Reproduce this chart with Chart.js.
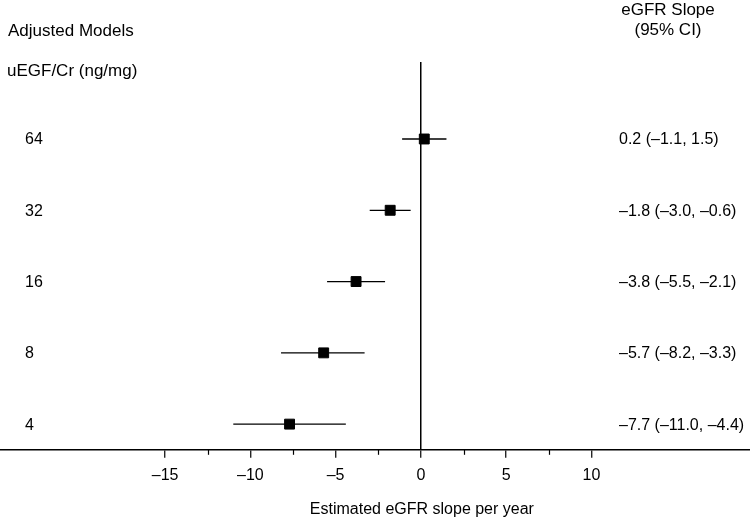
<!DOCTYPE html>
<html>
<head>
<meta charset="utf-8">
<script src="https://cdn.jsdelivr.net/npm/chart.js@4.4.9/dist/chart.umd.min.js"></script>
<style>
  html, body { margin: 0; padding: 0; background: #fff; }
  #wrap { width: 750px; height: 518px; }
</style>
</head>
<body>
<div id="wrap"><canvas id="forest" width="750" height="518"></canvas></div>
<script>
// 데이터
const groups = ['64', '32', '16', '8', '4'];
const estimates = [0.2, -1.8, -3.8, -5.7, -7.7];
const lower = [-1.1, -3.0, -5.5, -8.2, -11.0];
const upper = [1.5, -0.6, -2.1, -3.3, -4.4];
const xTicks = [-15, -10, -5, 0, 5, 10];
const minorTicks = [-12.5, -7.5, -2.5, 2.5, 7.5];

const FONT = '"Liberation Sans", Arial, sans-serif';
const dash = v => (v < 0 ? '\u2013' : '') + Math.abs(v);
const fmt = v => (v < 0 ? '\u2013' : '') + Math.abs(v).toFixed(1);

// CI 선 (각 행마다 두 점짜리 line)
const ciSets = groups.map((g, i) => ({
    type: 'line',
    data: [{ x: lower[i], y: i }, { x: upper[i], y: i }],
    borderColor: '#000',
    borderWidth: 1.3,
    pointRadius: 0,
    order: 2
}));

// 텍스트 + 보조 눈금 그리는 플러그인
const textPlugin = {
    id: 'forestText',
    afterDraw(chart) {
        const { ctx, scales: { x, y } } = chart;
        ctx.save();
        ctx.fillStyle = '#000';
        ctx.textBaseline = 'middle';

        // 머리글 (조금 큰 글씨)
        ctx.font = '17px ' + FONT;
        ctx.textAlign = 'left';
        ctx.fillText('Adjusted Models', 8, 31.5);
        ctx.fillText('uEGF/Cr (ng/mg)', 7, 71.5);
        ctx.textAlign = 'center';
        ctx.fillText('eGFR Slope', 668, 10);
        ctx.fillText('(95% CI)', 668, 30);

        ctx.font = '16px ' + FONT;
        ctx.textAlign = 'left';
        groups.forEach((g, i) => ctx.fillText(g, 25, y.getPixelForValue(i) + 1));
        groups.forEach((g, i) => {
            ctx.fillText(fmt(estimates[i]) + ' (' + fmt(lower[i]) + ', ' + fmt(upper[i]) + ')',
                619, y.getPixelForValue(i) + 1);
        });

        ctx.textAlign = 'center';
        ctx.fillText('Estimated eGFR slope per year', x.getPixelForValue(0) + 1, 509.5);

        // 보조 눈금
        ctx.strokeStyle = '#000';
        ctx.lineWidth = 1.2;
        const base = chart.chartArea.bottom;
        minorTicks.forEach(v => {
            const px = Math.round(x.getPixelForValue(v)) + 0.5;
            ctx.beginPath();
            ctx.moveTo(px, base);
            ctx.lineTo(px, base + 5);
            ctx.stroke();
        });
        ctx.restore();
    }
};

new Chart(document.getElementById('forest').getContext('2d'), {
    type: 'scatter',
    data: {
        datasets: [{
            data: groups.map((g, i) => ({ x: estimates[i], y: i })),
            backgroundColor: '#000',
            borderColor: '#000',
            borderWidth: 1,
            pointStyle: 'rect',
            pointRadius: 7,
            order: 1
        }, ...ciSets]
    },
    options: {
        responsive: false,
        animation: false,
        devicePixelRatio: 1,
        layout: { autoPadding: false, padding: { top: 62, left: 0, right: 0, bottom: 25 } },
        plugins: { legend: { display: false }, tooltip: { enabled: false } },
        scales: {
            x: {
                type: 'linear',
                min: -24.68,
                max: 19.3,
                afterBuildTicks: axis => { axis.ticks = xTicks.map(v => ({ value: v })); },
                grid: {
                    drawOnChartArea: true,
                    color: c => (c.tick && c.tick.value === 0 ? '#000' : 'rgba(0,0,0,0)'),
                    lineWidth: 1.5,
                    tickColor: '#000',
                    tickWidth: 1.2,
                    tickLength: 8
                },
                border: { display: true, color: '#000', width: 1.5 },
                ticks: {
                    color: '#000',
                    font: { size: 16, family: FONT },
                    padding: 8,
                    maxRotation: 0,
                    callback: v => dash(v)
                }
            },
            y: {
                type: 'linear',
                display: false,
                reverse: true,
                min: -1.08,
                max: 4.36
            }
        }
    },
    plugins: [textPlugin]
});
</script>
</body>
</html>
